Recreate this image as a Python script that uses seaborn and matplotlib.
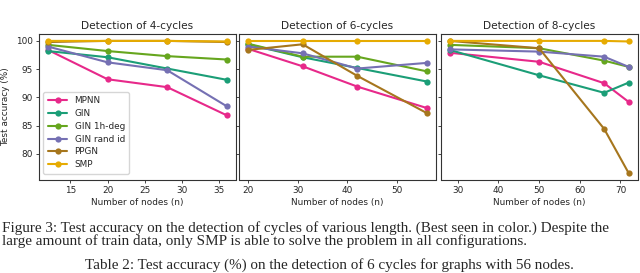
import matplotlib
matplotlib.use("Agg")
import matplotlib.pyplot as plt
import seaborn as sns
import pandas as pd

models = ["MPNN", "GIN", "GIN 1h-deg", "GIN rand id", "PPGN", "SMP"]
colors = ["#e7298a", "#1b9e77", "#66a61e", "#7570b3", "#a6761d", "#e6ab02"]

titles = ["Detection of 4-cycles", "Detection of 6-cycles", "Detection of 8-cycles"]

n_4 = [12, 20, 28, 36]
acc_4 = {
    "MPNN":        [98.4, 93.2, 91.8, 86.8],
    "GIN":         [98.2, 97.1, 95.1, 93.1],
    "GIN 1h-deg":  [99.3, 98.2, 97.3, 96.7],
    "GIN rand id": [99.0, 96.2, 94.8, 88.4],
    "PPGN":        [99.8, 100.0, 100.0, 99.8],
    "SMP":         [100.0, 100.0, 100.0, 99.9],
}

n_6 = [20, 31, 42, 56]
acc_6 = {
    "MPNN":        [98.6, 95.5, 91.9, 88.1],
    "GIN":         [99.4, 97.1, 95.2, 92.8],
    "GIN 1h-deg":  [99.5, 97.2, 97.2, 94.6],
    "GIN rand id": [99.0, 97.8, 95.1, 96.1],
    "PPGN":        [98.4, 99.4, 93.8, 87.2],
    "SMP":         [100.0, 100.0, 100.0, 100.0],
}

n_8 = [28, 50, 66, 72]
acc_8 = {
    "MPNN":        [97.9, 96.3, 92.5, 89.2],
    "GIN":         [98.4, 93.9, 90.8, 92.6],
    "GIN 1h-deg":  [99.3, 98.7, 96.5, 95.4],
    "GIN rand id": [98.5, 98.1, 97.2, 95.4],
    "PPGN":        [100.0, 98.7, 84.4, 76.6],
    "SMP":         [100.0, 100.0, 100.0, 99.9],
}

caption1 = ("Figure 3: Test accuracy on the detection of cycles of various length. "
            "(Best seen in color.) Despite the")
caption2 = ("large amount of train data, only SMP is able to solve the problem in all configurations.")
caption3 = "Table 2: Test accuracy (%) on the detection of 6 cycles for graphs with 56 nodes."

sns.set_theme(style="ticks")
plt.rcParams["font.family"] = ["DejaVu Sans"]
plt.rcParams["axes.edgecolor"] = "#333333"
plt.rcParams["axes.linewidth"] = 0.8

fig = plt.figure(figsize=(6.4, 2.73), dpi=100)
W, H = 640.0, 273.0
left_px = [39.0, 239.0, 440.7]
ax_w = 196.8
top_px, bot_px = 34.3, 179.5

palette = dict(zip(models, colors))
datasets = [(n_4, acc_4), (n_6, acc_6), (n_8, acc_8)]
axes = []
for i, (ns, acc) in enumerate(datasets):
    if i == 0:
        ax = fig.add_axes([left_px[i] / W, 1 - bot_px / H, ax_w / W, (bot_px - top_px) / H])
    else:
        ax = fig.add_axes([left_px[i] / W, 1 - bot_px / H, ax_w / W, (bot_px - top_px) / H],
                          sharey=axes[0])
    rows = []
    for m in models:
        for x, y in zip(ns, acc[m]):
            rows.append({"n": x, "acc": y, "model": m})
    df = pd.DataFrame(rows)
    sns.lineplot(data=df, x="n", y="acc", hue="model", hue_order=models, palette=palette,
                 marker="o", markersize=4.5, markeredgewidth=0, linewidth=1.5, ax=ax,
                 legend=(i == 0))
    ax.set_title(titles[i], fontsize=7.6, pad=3.5)
    ax.set_xlabel("Number of nodes (n)", fontsize=6.4, labelpad=2)
    ax.tick_params(labelsize=6.4, length=2.5, width=0.6, pad=2)
    if i == 0:
        ax.set_ylabel("Test accuracy (%)", fontsize=6.4, labelpad=4)
        ax.set_yticks([80, 85, 90, 95, 100])
        leg = ax.legend(loc="lower left", fontsize=6.4, frameon=True, handlelength=2.2,
                        borderpad=0.5, labelspacing=0.42, handletextpad=0.8,
                        bbox_to_anchor=(0.0, 0.01))
        leg.get_frame().set_edgecolor("#cccccc")
    else:
        ax.set_ylabel("")
        ax.tick_params(labelleft=False)
    axes.append(ax)

axes[0].set_xticks([15, 20, 25, 30, 35])
axes[1].set_xticks([20, 30, 40, 50])
axes[2].set_xticks([30, 40, 50, 60, 70])

serif = ["Liberation Serif", "DejaVu Serif"]
fig.text(2 / W, 1 - 228.0 / H, caption1, family=serif, fontsize=10.9, va="center", ha="left")
fig.text(2 / W, 1 - 241.5 / H, caption2, family=serif, fontsize=10.9, va="center", ha="left")
fig.text(329 / W, 1 - 265.5 / H, caption3, family=serif, fontsize=10.9, va="center", ha="center")

fig.savefig("out.png", dpi=100)
